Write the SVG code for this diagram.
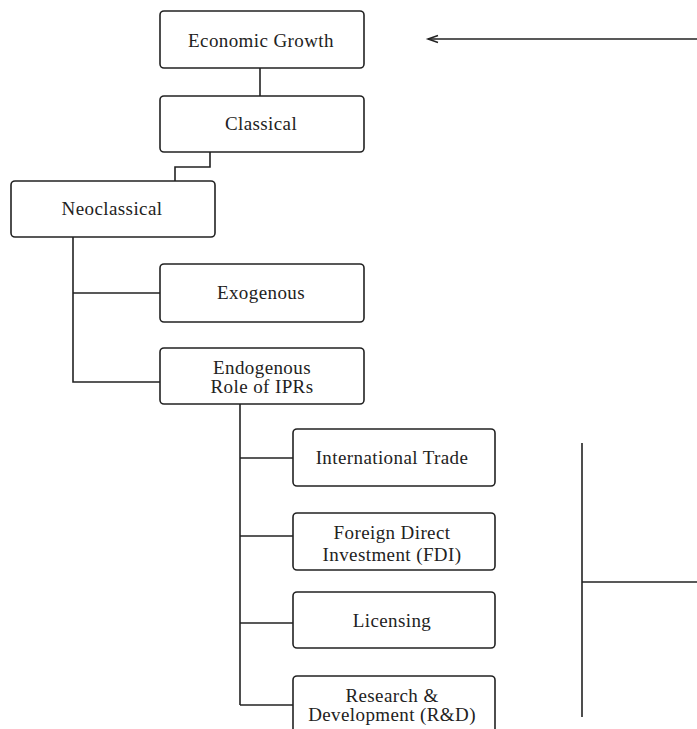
<svg xmlns="http://www.w3.org/2000/svg" width="697" height="729" viewBox="0 0 697 729">
<defs>
<style>
.box{fill:#fff;stroke:#222;stroke-width:1.6}
.ln{fill:none;stroke:#222;stroke-width:1.6}
.t{font-family:'Liberation Serif','DejaVu Serif',serif;font-size:19px;letter-spacing:0.4px;fill:#222;text-anchor:middle}
</style>
<marker id="ah" markerWidth="16" markerHeight="12" refX="11" refY="6" orient="auto" markerUnits="userSpaceOnUse">
<path d="M1,2.5 L11,6 L1,9.5" fill="none" stroke="#222" stroke-width="1.5"/>
</marker>
</defs>
<rect width="697" height="729" fill="#fff"/>
<g id="connectors">
<line class="ln" x1="260" y1="68" x2="260" y2="96"/>
<polyline class="ln" points="210,152 210,167 175,167 175,181"/>
<polyline class="ln" points="73,237 73,382 160,382"/>
<line class="ln" x1="73" y1="293" x2="160" y2="293"/>
<line class="ln" x1="240" y1="404" x2="240" y2="705"/>
<line class="ln" x1="240" y1="458" x2="293" y2="458"/>
<line class="ln" x1="240" y1="536" x2="293" y2="536"/>
<line class="ln" x1="240" y1="623" x2="293" y2="623"/>
<line class="ln" x1="240" y1="705" x2="293" y2="705"/>
<line class="ln" x1="582" y1="443" x2="582" y2="717"/>
<line class="ln" x1="582" y1="582" x2="697" y2="582"/>
<line class="ln" x1="697" y1="39" x2="428" y2="39" marker-end="url(#ah)"/>
</g>
<g id="economic-growth"><rect class="box" x="160" y="11" width="204" height="57" rx="4"/><text class="t" x="261" y="47">Economic Growth</text></g>
<g id="classical"><rect class="box" x="160" y="96" width="204" height="56" rx="4"/><text class="t" x="261" y="130">Classical</text></g>
<g id="neoclassical"><rect class="box" x="11" y="181" width="204" height="56" rx="4"/><text class="t" x="112" y="215">Neoclassical</text></g>
<g id="exogenous"><rect class="box" x="160" y="264" width="204" height="58" rx="4"/><text class="t" x="261" y="299">Exogenous</text></g>
<g id="endogenous"><rect class="box" x="160" y="348" width="204" height="56" rx="4"/><text class="t" x="262" y="374">Endogenous</text><text class="t" x="262" y="393">Role of IPRs</text></g>
<g id="international-trade"><rect class="box" x="293" y="429" width="202" height="57" rx="4"/><text class="t" x="392" y="464">International Trade</text></g>
<g id="fdi"><rect class="box" x="293" y="513" width="202" height="57" rx="4"/><text class="t" x="392" y="539">Foreign Direct</text><text class="t" x="392" y="561">Investment (FDI)</text></g>
<g id="licensing"><rect class="box" x="293" y="592" width="202" height="56" rx="4"/><text class="t" x="392" y="627">Licensing</text></g>
<g id="research-development"><rect class="box" x="293" y="676" width="202" height="62" rx="4"/><text class="t" x="392" y="702">Research &amp;</text><text class="t" x="392" y="721">Development (R&amp;D)</text></g>
</svg>
